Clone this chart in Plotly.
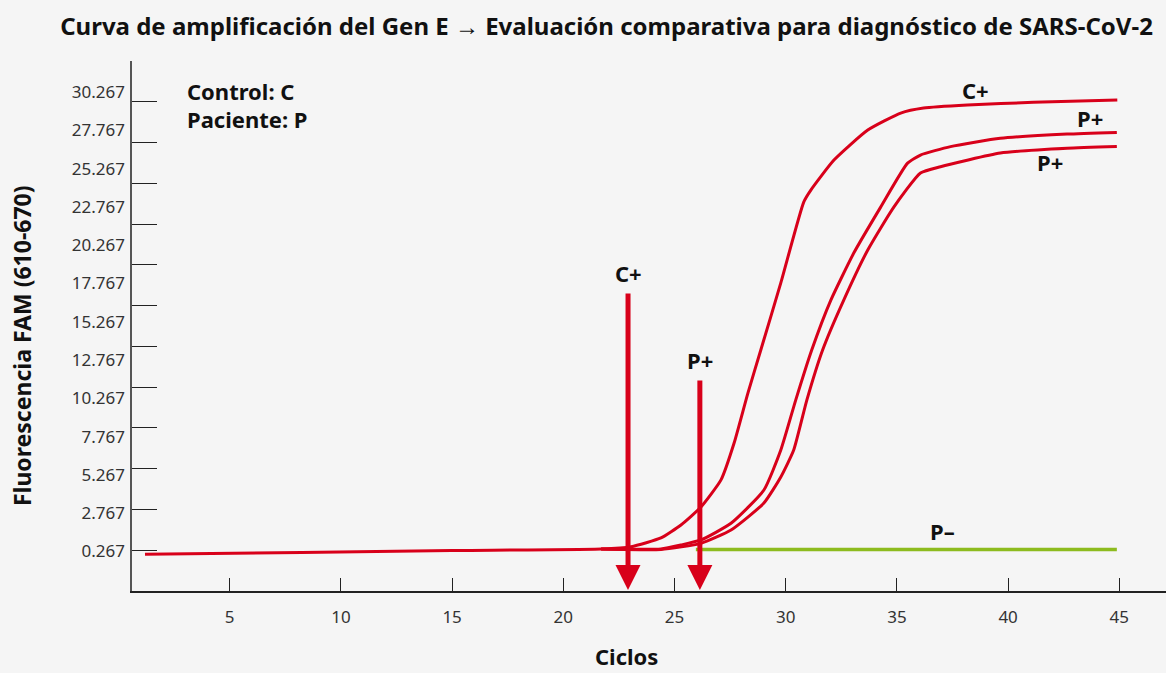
import plotly.graph_objects as go

# ---------------- data ----------------
c_pos_x = [1.19, 8.24, 14.97, 21.70, 23.05, 24.39, 25.29, 26.19, 27.09, 27.68, 28.30, 28.88, 29.78,
           30.81, 31.13, 32.17, 33.69, 35.17, 36.20, 38.17, 41.14, 44.91]
c_pos_y = [0.08, 0.20, 0.33, 0.43, 0.58, 1.15, 2.00, 3.17, 4.94, 7.35, 10.61, 13.42, 17.80,
           23.08, 23.86, 25.82, 27.78, 28.89, 29.22, 29.42, 29.59, 29.74]

p1_x = [21.70, 24.39, 25.29, 26.19, 27.54, 29.02, 29.78, 30.45, 31.17, 32.03, 33.06, 34.27, 35.48,
        36.06, 37.41, 39.65, 42.65, 44.89]
p1_y = [0.43, 0.43, 0.69, 1.02, 2.11, 4.28, 6.89, 10.15, 13.42, 16.68, 19.75, 22.75, 25.62,
        26.15, 26.70, 27.24, 27.52, 27.63]

p2_x = [21.70, 24.39, 26.19, 27.54, 29.02, 29.78, 30.36, 30.95, 31.66, 32.61, 33.69, 34.86, 36.06,
        36.96, 39.65, 42.65, 44.89]
p2_y = [0.43, 0.40, 0.80, 1.67, 3.43, 5.13, 6.89, 10.15, 13.42, 16.68, 19.95, 22.75, 24.98,
        25.39, 26.28, 26.59, 26.70]

p_neg_x = [25.96, 44.89]
p_neg_y = [0.40, 0.40]

# threshold arrows (cycle, top of arrow) and labels
arrow_names = ["C+", "P+"]
arrow_cycles = [22.91, 26.14]
arrow_tops = [17.21, 11.53]

# curve labels
curve_labels = ["C+", "P+", "P+", "P\u2013"]
curve_label_x = [38.53, 43.69, 41.90, 37.05]
curve_label_y = [30.40, 28.57, 25.70, 1.60]

x_ticks = [5, 10, 15, 20, 25, 30, 35, 40, 45]
y_ticks = [0.267, 2.767, 5.267, 7.767, 10.267, 12.767, 15.267, 17.767, 20.267, 22.767,
           25.267, 27.767, 30.267]
y_ticktext = ["0.267", "2.767", "5.267", "7.767", "10.267", "12.767", "15.267", "17.767",
              "20.267", "22.767", "25.267", "27.767", "30.267"]

# ---------------- style ----------------
RED = "#D8001A"
GREEN = "#8DBB1E"
BG = "#F5F5F5"
FONT = "Noto Sans"
SM = 0.5

fig = go.Figure()

fig.add_trace(go.Scatter(x=p_neg_x, y=p_neg_y, mode="lines",
                         line=dict(color=GREEN, width=3.5), hoverinfo="skip"))
fig.add_trace(go.Scatter(x=p2_x, y=p2_y, mode="lines",
                         line=dict(color=RED, width=3, shape="spline", smoothing=SM)))
fig.add_trace(go.Scatter(x=p1_x, y=p1_y, mode="lines",
                         line=dict(color=RED, width=3, shape="spline", smoothing=SM)))
fig.add_trace(go.Scatter(x=c_pos_x, y=c_pos_y, mode="lines",
                         line=dict(color=RED, width=3, shape="spline", smoothing=SM)))
# invisible trace so the tick-mark axis is drawn
fig.add_trace(go.Scatter(x=[None], y=[None], yaxis="y2", mode="lines", hoverinfo="skip"))

annotations = []
y_bottom = -2.25
for name, cx, top in zip(arrow_names, arrow_cycles, arrow_tops):
    annotations.append(dict(x=cx, y=y_bottom, ax=cx, ay=top, xref="x", yref="y",
                            axref="x", ayref="y", showarrow=True, arrowhead=2,
                            arrowsize=1, arrowwidth=5, arrowcolor=RED, text=""))
    annotations.append(dict(x=cx, y=top, xref="x", yref="y", text="<b>%s</b>" % name,
                            showarrow=False, yanchor="bottom", yshift=2,
                            font=dict(family=FONT, size=22, color="#111")))

for t, lx, ly in zip(curve_labels, curve_label_x, curve_label_y):
    annotations.append(dict(x=lx, y=ly, xref="x", yref="y", text="<b>%s</b>" % t,
                            showarrow=False, font=dict(family=FONT, size=22, color="#111")))

annotations += [
    dict(x=0.0513, y=(591 - 91) / 530, xref="paper", yref="paper", xanchor="left", yanchor="middle",
         text="<b>Control: C</b>", showarrow=False, font=dict(family=FONT, size=22, color="#111")),
    dict(x=0.0513, y=(591 - 119) / 530, xref="paper", yref="paper", xanchor="left", yanchor="middle",
         text="<b>Paciente: P</b>", showarrow=False, font=dict(family=FONT, size=22, color="#111")),
    dict(x=0.4787, y=(591 - 656) / 530, xref="paper", yref="paper", xanchor="center", yanchor="middle",
         text="<b>Ciclos</b>", showarrow=False, font=dict(family=FONT, size=22, color="#111")),
    dict(x=-0.1064, y=0.464, xref="paper", yref="paper", xanchor="center", yanchor="middle",
         text="<b>Fluorescencia FAM (610-670)</b>", textangle=-90, showarrow=False,
         font=dict(family=FONT, size=23, color="#111")),
]

fig.update_layout(
    width=1166, height=673,
    margin=dict(l=132, r=0, t=61, b=82),
    paper_bgcolor=BG, plot_bgcolor=BG,
    showlegend=False,
    title=dict(text="<b>Curva de amplificación del Gen E \u2192 Evaluación comparativa para diagnóstico de SARS-CoV-2</b>",
               x=606.5 / 1166, xanchor="center", y=1 - 27 / 673, yanchor="middle", yref="container",
               font=dict(family=FONT, size=24, color="#111")),
    xaxis=dict(range=[0.606, 47.1], tickvals=x_ticks, ticks="inside", ticklen=13,
               tickcolor="#222", tickwidth=1, showline=True, linecolor="#222", linewidth=1.5,
               showgrid=False, zeroline=False, ticklabelstandoff=10,
               tickfont=dict(family=FONT, size=17, color="#333")),
    yaxis=dict(range=[-2.312, 32.29], tickvals=y_ticks, ticktext=y_ticktext, ticks="",
               showline=False, showgrid=False, zeroline=False, ticklabelstandoff=6,
               tickfont=dict(family=FONT, size=17, color="#333")),
    yaxis2=dict(range=[-2.248, 30.27], overlaying="y", side="left", tickvals=y_ticks,
                showticklabels=False, ticks="inside", ticklen=25, tickcolor="#222",
                tickwidth=1, showline=True, linecolor="#555", linewidth=2,
                showgrid=False, zeroline=False),
    annotations=annotations,
)

fig.write_html("out.html", config={"displayModeBar": False},
               post_script="document.body.style.margin='0px';"
                           "document.body.style.background='#F5F5F5';")
